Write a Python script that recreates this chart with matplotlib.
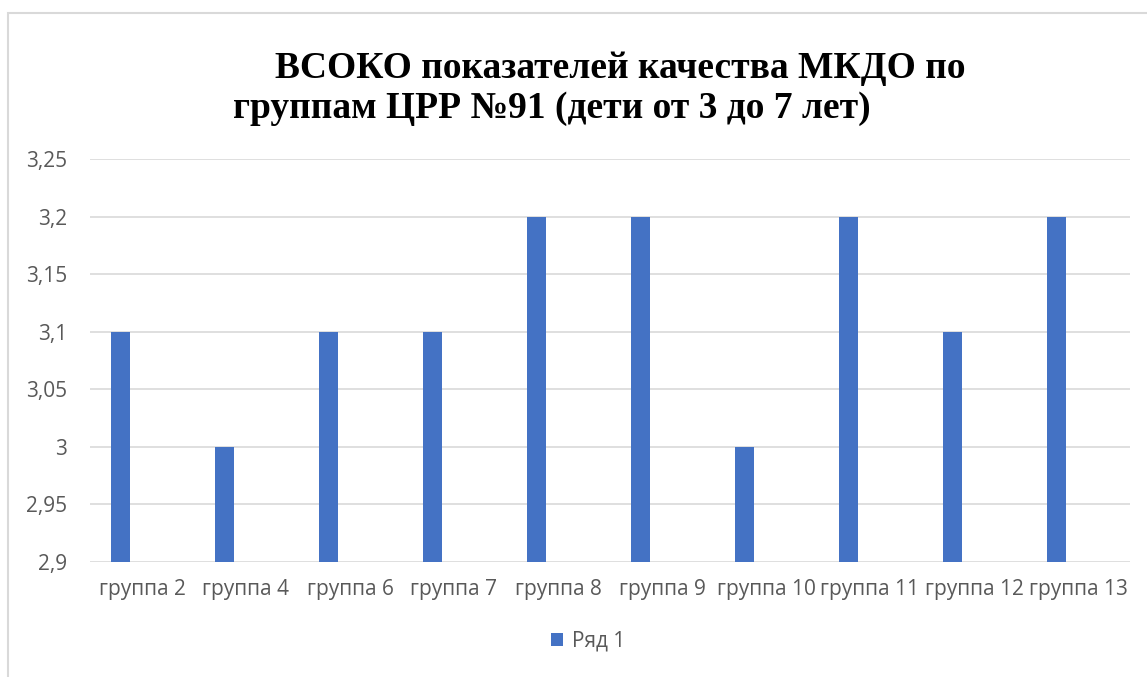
import numpy as np
import matplotlib.pyplot as plt
from matplotlib.patches import Rectangle

# data
groups = ['группа 2', 'группа 4', 'группа 6', 'группа 7', 'группа 8',
          'группа 9', 'группа 10', 'группа 11', 'группа 12', 'группа 13']
values = [3.1, 3.0, 3.1, 3.1, 3.2, 3.2, 3.0, 3.2, 3.1, 3.2]
yticks = [2.9, 2.95, 3.0, 3.05, 3.1, 3.15, 3.2, 3.25]
ytick_labels = ['2,9', '2,95', '3', '3,05', '3,1', '3,15', '3,2', '3,25']

W, H = 1147, 677
fig = plt.figure(figsize=(W / 100, H / 100), dpi=100)
ax = fig.add_axes([90 / W, 1 - 562 / H, (1130 - 90) / W, (562 - 159) / H])

blue = '#4472C4'
grey = '#595959'
x = np.arange(len(groups))
ax.bar(x - 0.21, values, width=0.18, color=blue, label='Ряд 1', zorder=3)

ax.set_xlim(-0.5, len(groups) - 0.5)
ax.set_ylim(2.9, 3.25)
ax.set_yticks(yticks)
ax.set_yticklabels(ytick_labels)
ax.set_xticks(x)
ax.set_xticklabels(groups)
ax.tick_params(axis='both', length=0, colors=grey, labelsize=15)
ax.tick_params(axis='y', pad=16.5)
ax.tick_params(axis='x', pad=12)
for lbl in ax.get_xticklabels() + ax.get_yticklabels():
    lbl.set_family('Open Sans')
ax.grid(axis='y', color='#d9d9d9', linewidth=1.2, zorder=0)
for s in ax.spines.values():
    s.set_visible(False)

# chart border
fig.patches.append(Rectangle((8 / W, -0.1), 1.2, 1 - 13 / H + 0.1,
                             transform=fig.transFigure, fill=False,
                             edgecolor='#d9d9d9', linewidth=1.5))

# title
fig.text(620 / W, 1 - 78 / H, 'ВСОКО показателей качества МКДО по',
         ha='center', va='baseline', fontsize=27, fontweight='bold',
         family='Liberation Serif')
fig.text(552 / W, 1 - 118 / H, 'группам ЦРР №91 (дети от 3 до 7 лет)',
         ha='center', va='baseline', fontsize=27, fontweight='bold',
         family='Liberation Serif')

leg = fig.legend(loc='center', bbox_to_anchor=(588 / W, 1 - 641 / H),
                 frameon=False, handlelength=0.6, handleheight=0.6,
                 handletextpad=0.4, prop={'family': 'Open Sans', 'size': 15})
for t in leg.get_texts():
    t.set_color(grey)

fig.savefig('out.png', dpi=100)
